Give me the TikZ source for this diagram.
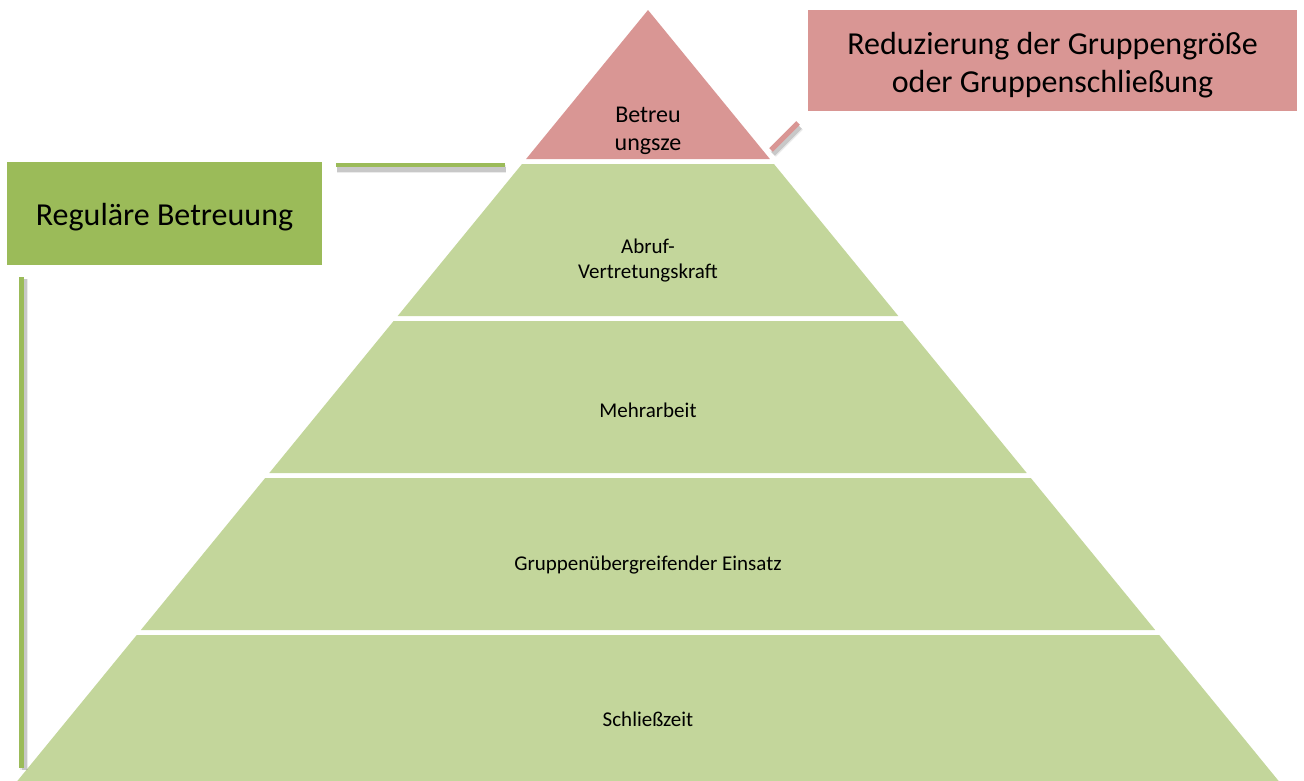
\documentclass[tikz,border=0pt]{standalone}
\usepackage{fontspec}
\setmainfont{Carlito}
\definecolor{layergreen}{HTML}{C3D69B}
\definecolor{boxgreen}{HTML}{9BBB59}
\definecolor{boxred}{HTML}{D99694}
\tikzset{
  layertext/.style={align=center, inner sep=0pt, font=\fontsize{21}{25}\selectfont},
  bigbox/.style={inner sep=0pt, align=center, font=\fontsize{32}{38.5}\selectfont},
  shadowline/.style={draw=black, line width=8pt, opacity=0.08},
  shadowcore/.style={draw=black, line width=5pt, opacity=0.15},
}
\begin{document}
\begin{tikzpicture}[x=1pt, y=-1pt]
\useasboundingbox (0,0) rectangle (1304,780);
% pyramid: apex (648,10), half width 0.818 per pixel of height
\fill[boxred] (648,10) -- (526.1,159) -- (769.9,159) -- cycle;
\foreach \t/\b in {164/316, 321/473, 478/630, 635/790}{
  \pgfmathsetmacro{\wt}{0.818*(\t-10)}
  \pgfmathsetmacro{\wb}{0.818*(\b-10)}
  \fill[layergreen] (648-\wt,\t) -- (648+\wt,\t) -- (648+\wb,\b) -- (648-\wb,\b) -- cycle;
}
\node[layertext, font=\fontsize{24}{28}\selectfont] (top) at (648,131) {Betreu\\ungsze};
\node[layertext] (abruf) at (648,261) {Abruf-\\Vertretungskraft};
\node[layertext] (mehr) at (648,410) {Mehrarbeit};
\node[layertext] (einsatz) at (648,565) {Gruppenübergreifender Einsatz};
\node[layertext] (schliess) at (648,719) {Schließzeit};
% label boxes
\node[boxred, fill, minimum width=489pt, minimum height=101pt] (reducebox) at (1052.5,60.5) {};
\node[bigbox] (reduce) at (1052.5,65) {Reduzierung der Gruppengröße\\oder Gruppenschließung};
\node[boxgreen, fill, minimum width=315pt, minimum height=103pt] (regularbox) at (164.5,213.5) {};
\node[bigbox] (regular) at (164.5,217) {Reguläre Betreuung};
% connector lines
\coordinate (gA) at (336,165);
\coordinate (gB) at (505,165);
\coordinate (vA) at (21,277);
\coordinate (vB) at (21,768);
\coordinate (rA) at (771,150);
\coordinate (rB) at (798,123);
\foreach \p/\q/\s in {gA/gB/{(1,4)}, vA/vB/{(3,2)}, rA/rB/{(2,4)}}{
  \draw[shadowline] ([shift=\s]\p) -- ([shift=\s]\q);
  \draw[shadowcore] ([shift=\s]\p) -- ([shift=\s]\q);
}
\draw[boxgreen, line width=4.5pt] (gA) -- (gB);
\draw[boxgreen, line width=5pt] (vA) -- (vB);
\draw[boxred, line width=5pt] (rA) -- (rB);
\end{tikzpicture}
\end{document}
